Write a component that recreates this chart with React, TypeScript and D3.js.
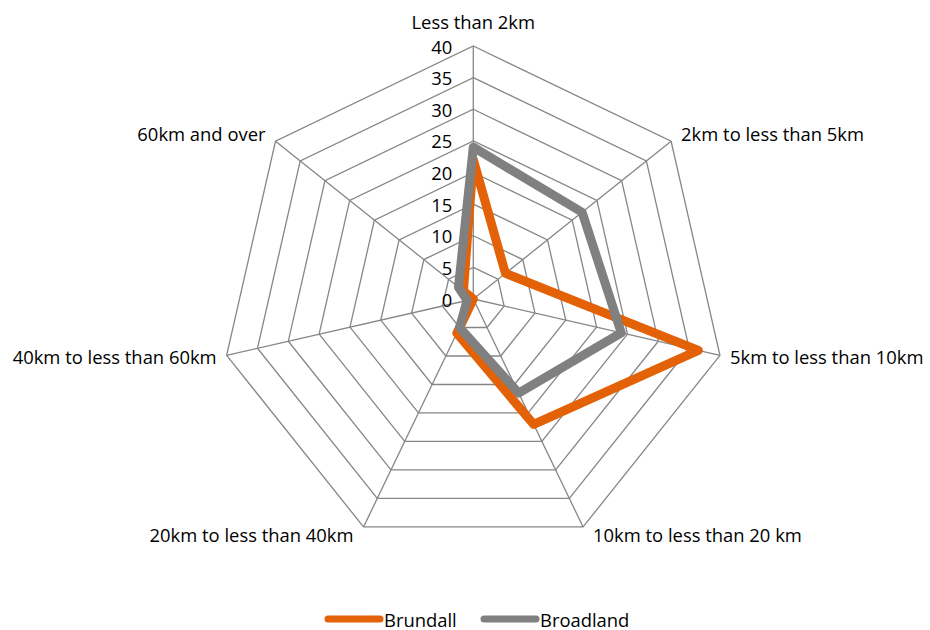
import React from "react";
import * as d3 from "d3";

const categories = [
  "Less than 2km",
  "2km to less than 5km",
  "5km to less than 10km",
  "10km to less than 20 km",
  "20km to less than 40km",
  "40km to less than 60km",
  "60km and over",
];
const brundall = [22, 6.5, 36.5, 22, 6, 0, 2];
const broadland = [24, 22, 24, 16.5, 5, 1, 3];
const ticks = [0, 5, 10, 15, 20, 25, 30, 35, 40];

const series = [
  { name: "Brundall", values: brundall, color: "#E36107" },
  { name: "Broadland", values: broadland, color: "#808080" },
];

const W = 930;
const H = 630;
const cx = 473.3;
const cy = 299;
const R = 253;
const FONT = "'Open Sans', sans-serif";
const FS = 18.4;

export default function App() {
  const n = categories.length;
  const angle = d3
    .scaleLinear()
    .domain([0, n])
    .range([0, 2 * Math.PI]);
  const r = d3.scaleLinear().domain([0, 40]).range([0, R]);

  const pt = (i: number, v: number): [number, number] => {
    const a = angle(i);
    return [cx + r(v) * Math.sin(a), cy - r(v) * Math.cos(a)];
  };

  const ring = (v: number) =>
    "M" + categories.map((_, i) => pt(i, v).join(",")).join("L") + "Z";

  const seriesPath = (vals: number[]) =>
    d3.line<number>()
      .x((d, i) => pt(i, d)[0])
      .y((d, i) => pt(i, d)[1])
      .curve(d3.curveLinearClosed)(vals) as string;

  // category label placement around the outer ring
  const labelPos = categories.map((c, i) => {
    const [x, y] = pt(i, 40);
    const a = angle(i);
    const s = Math.sin(a);
    const co = Math.cos(a);
    let anchor: "start" | "end" | "middle" = "middle";
    let lx = x;
    let ly = y;
    const dy = co > 0.1 ? -8 : co < -0.5 ? 8 : 1;
    if (Math.abs(s) < 0.01) {
      ly = y - 25;
    } else if (s > 0) {
      anchor = "start";
      lx = x + 10;
      ly = y + dy;
    } else {
      anchor = "end";
      lx = x - 10;
      ly = y + dy;
    }
    return { c, lx, ly, anchor };
  });

  return (
    <svg width={W} height={H} style={{ position: "absolute", left: 0, top: 0 }}>
      <rect width={W} height={H} fill="#fff" />
      <g fill="none" stroke="#868686" strokeWidth={1.3}>
        {ticks.slice(1).map((t) => (
          <path key={t} d={ring(t)} />
        ))}
        {categories.map((c, i) => {
          const [x, y] = pt(i, 40);
          return <line key={c} x1={cx} y1={cy} x2={x} y2={y} />;
        })}
      </g>
      <g fontFamily={FONT} fontSize={FS} fill="#000">
        {ticks.map((t) => (
          <text key={t} x={cx - 21} y={cy - r(t)} textAnchor="end" dominantBaseline="central">
            {t}
          </text>
        ))}
        {labelPos.map((l) => (
          <text key={l.c} x={l.lx} y={l.ly} textAnchor={l.anchor} dominantBaseline="central">
            {l.c}
          </text>
        ))}
      </g>
      <g fill="none" strokeWidth={9} strokeLinejoin="round">
        {series.map((s) => (
          <path key={s.name} d={seriesPath(s.values)} stroke={s.color} />
        ))}
      </g>
      <g fontFamily={FONT} fontSize={FS}>
        {series.map((s, i) => {
          const x0 = 328 + i * 156;
          return (
            <g key={s.name}>
              <line x1={x0} x2={x0 + 52} y1={619} y2={619} stroke={s.color} strokeWidth={7} strokeLinecap="round" />
              <text x={x0 + 56} y={619} dominantBaseline="central" fill="#000">
                {s.name}
              </text>
            </g>
          );
        })}
      </g>
    </svg>
  );
}
